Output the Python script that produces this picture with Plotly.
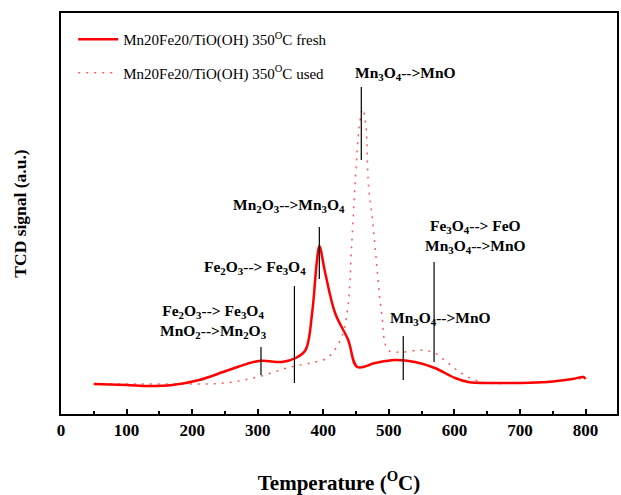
import plotly.graph_objects as go

# Temperature (°C) and TCD signal (a.u.)
temp_fresh = [50, 100, 135, 170, 211, 256, 302, 337, 358, 373, 383, 390, 394, 403, 418, 438, 452,
              479, 509, 540, 570, 601, 621, 660, 700, 742, 780, 797, 800]
sig_fresh = [30, 29, 28, 29, 34, 44, 53, 52, 56, 64, 101, 151, 168, 141, 101, 74, 47,
             51, 54, 52, 46, 36, 32, 31, 31, 32, 35, 37, 35]

temp_used = [50, 100, 150, 200, 250, 300, 350, 388, 408, 428, 438, 443, 449, 455, 460,
             465, 469, 475, 479, 489, 499, 519, 549, 570, 590, 610, 631, 650, 700, 750, 800]
sig_used = [30, 30, 30, 30, 31, 37, 47, 52, 57, 77, 110, 165, 235, 288, 305,
             288, 228, 195, 167, 101, 64, 62, 64, 61, 51, 41, 34, 31, 31, 33, 36]

# marker lines: temperature, bottom, top (a.u.)
mark_t = [305, 356, 394, 522, 569, 458]
mark_lo = [39, 31, 135, 34, 52, 254]
mark_hi = [67, 128, 187, 78, 152, 327]

# labels: text, temperature centre, signal height
lab_text = [
    "<b>Fe<sub>2</sub>O<sub>3</sub>--> Fe<sub>3</sub>O<sub>4</sub></b><br><b>MnO<sub>2</sub>-->Mn<sub>2</sub>O<sub>3</sub></b>",
    "<b>Fe<sub>2</sub>O<sub>3</sub>--> Fe<sub>3</sub>O<sub>4</sub></b>",
    "<b>Mn<sub>2</sub>O<sub>3</sub>-->Mn<sub>3</sub>O<sub>4</sub></b>",
    "<b>Mn<sub>3</sub>O<sub>4</sub>-->MnO</b>",
    "<b>Fe<sub>3</sub>O<sub>4</sub>--> FeO</b><br><b>Mn<sub>3</sub>O<sub>4</sub>-->MnO</b>",
    "<b>Mn<sub>3</sub>O<sub>4</sub>-->MnO</b>",
]
lab_t = [232, 296, 348, 579, 632, 526]
lab_y = [93, 147, 209, 96, 178, 341]

fig = go.Figure()
fig.add_trace(go.Scatter(x=temp_fresh, y=sig_fresh, mode="lines", line=dict(color="#ff0000", width=2.5, shape="spline"),
                         name="Mn20Fe20/TiO(OH) 350<sup>O</sup>C fresh", legendgroup="a"))
fig.add_trace(go.Scatter(x=temp_used, y=sig_used, mode="lines", line=dict(color="rgba(255,0,0,0.65)", width=1.5, dash="2px,6px", shape="spline"),
                         name="Mn20Fe20/TiO(OH) 350<sup>O</sup>C used", legendgroup="b"))

for t, lo, hi in zip(mark_t, mark_lo, mark_hi):
    fig.add_shape(type="line", x0=t, x1=t, y0=lo, y1=hi, xref="x", yref="y", line=dict(color="black", width=1.2))

for txt, t, y in zip(lab_text, lab_t, lab_y):
    fig.add_annotation(x=t, y=y, text=txt, showarrow=False, xref="x", yref="y",
                       font=dict(family="Liberation Serif", size=15.5, color="black"), align="center")

fig.update_layout(
    width=621, height=495,
    margin=dict(l=61, r=2, t=13, b=81),
    paper_bgcolor="white", plot_bgcolor="white",
    font=dict(family="Liberation Serif", color="black"),
    legend=dict(x=0.022, y=0.975, xanchor="left", yanchor="top", bgcolor="rgba(0,0,0,0)", itemwidth=40,
                font=dict(size=15, family="Liberation Serif"), tracegroupgap=11, traceorder="grouped"),
    xaxis=dict(range=[0, 848], showgrid=False, zeroline=False, showline=True, linecolor="black", linewidth=2, mirror=True,
               ticks="inside", ticklen=5, tickwidth=1.5, tickcolor="black", dtick=100, tick0=0,
               minor=dict(ticks="inside", ticklen=3, tickwidth=1.5, dtick=50, tickcolor="black"),
               tickfont=dict(size=17, family="Liberation Serif"), tickprefix="<b>", ticksuffix="</b>",
               title=dict(text="<b>Temperature (<sup>O</sup>C)</b>", font=dict(size=21), standoff=36)),
    yaxis=dict(range=[0, 401], showgrid=False, zeroline=False, showline=True, linecolor="black", linewidth=2, mirror=True,
               showticklabels=False, ticks="",
               title=dict(text="<b>TCD signal (a.u.)</b>", font=dict(size=17.5), standoff=28)),
)

fig.write_html("out.html")
